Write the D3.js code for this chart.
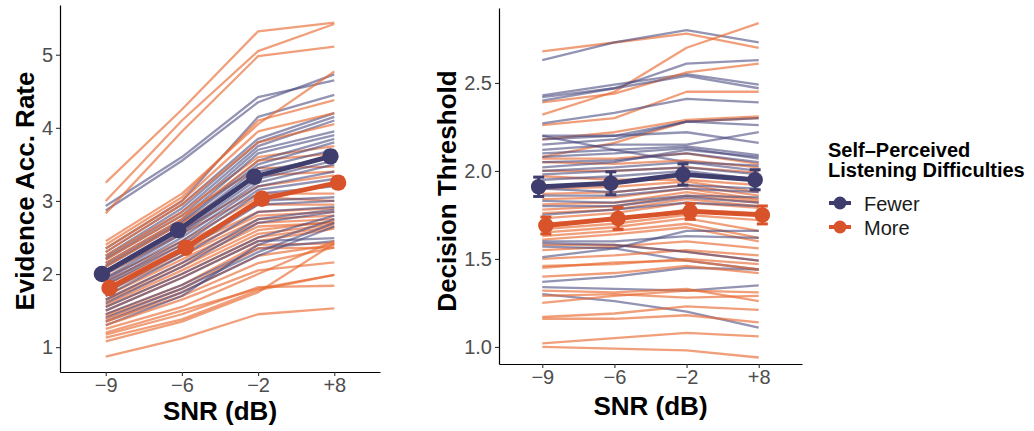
<!DOCTYPE html>
<html>
<head>
<meta charset="utf-8">
<script src="https://cdn.jsdelivr.net/npm/d3@7"></script>
<style>
  html, body { margin: 0; padding: 0; background: #ffffff; }
  svg { display: block; font-family: "Liberation Sans", Arial, Helvetica, sans-serif; }
</style>
</head>
<body>
<svg id="chart" width="1034" height="431"></svg>
<script>
// SNR conditions (x categories)
const snrLabels = ["\u22129", "\u22126", "\u22122", "+8"];
const groupNames = ["Fewer", "More"];

// Evidence accumulation rate, one row per participant: [-9, -6, -2, +8]
const driftFewer = [
  [2.93, 3.60, 4.42, 4.65], [2.87, 3.55, 4.35, 4.73], [2.35, 3.00, 4.15, 4.45],
  [2.30, 2.95, 3.85, 4.20], [2.25, 2.90, 3.80, 4.15], [2.22, 2.85, 3.75, 4.10],
  [2.20, 2.80, 3.70, 3.95], [2.15, 2.75, 3.65, 3.90], [2.12, 2.72, 3.55, 3.85],
  [2.10, 2.70, 3.50, 3.80], [2.05, 2.65, 3.45, 3.70], [2.02, 2.62, 3.40, 3.60],
  [2.00, 2.58, 3.30, 3.55], [1.95, 2.55, 3.25, 3.50], [1.92, 2.50, 3.20, 3.40],
  [1.88, 2.45, 3.15, 3.30], [1.85, 2.40, 3.10, 3.20], [1.80, 2.35, 3.00, 3.05],
  [1.75, 2.30, 2.95, 3.00], [1.70, 2.25, 2.85, 2.92], [1.65, 2.15, 2.75, 2.88],
  [1.60, 2.10, 2.70, 2.85], [1.55, 2.00, 2.50, 2.80], [1.50, 1.95, 2.45, 2.49],
  [1.45, 1.85, 2.35, 2.45], [1.40, 1.80, 2.30, 2.70], [1.35, 1.75, 2.25, 2.65],
  [1.30, 1.70, 2.40, 2.75]
];
const driftMore = [
  [3.25, 4.25, 5.32, 5.44], [3.00, 4.10, 5.05, 5.42], [2.83, 3.95, 4.98, 5.11],
  [2.45, 3.10, 4.05, 4.77], [2.40, 3.05, 4.10, 4.38], [2.35, 3.00, 3.95, 4.20],
  [2.30, 2.95, 3.80, 4.05], [2.25, 2.85, 3.60, 3.75], [2.20, 2.80, 3.45, 3.47],
  [2.15, 2.75, 3.55, 3.65], [2.10, 2.70, 3.35, 3.40], [2.05, 2.60, 3.20, 3.35],
  [2.00, 2.55, 3.10, 3.10], [1.95, 2.45, 3.05, 3.00], [1.90, 2.40, 2.95, 2.95],
  [1.85, 2.35, 2.85, 2.90], [1.80, 2.30, 2.80, 2.85], [1.75, 2.25, 2.75, 2.80],
  [1.70, 2.20, 2.70, 2.75], [1.65, 2.15, 2.65, 2.70], [1.62, 2.10, 2.60, 2.72],
  [1.58, 2.05, 2.55, 2.68], [1.55, 2.00, 2.50, 2.65], [1.50, 1.95, 2.45, 2.62],
  [1.45, 1.85, 2.40, 2.42], [1.42, 1.80, 2.35, 2.36], [1.38, 1.75, 2.25, 2.40],
  [1.35, 1.70, 2.15, 2.36], [1.30, 1.65, 2.05, 2.16], [1.25, 1.55, 2.00, 2.45],
  [1.20, 1.50, 1.80, 1.99], [1.17, 1.45, 1.82, 1.84], [1.13, 1.38, 1.78, 1.99],
  [1.08, 1.35, 1.75, 2.42], [0.87, 1.12, 1.45, 1.53]
];

// Decision threshold, one row per participant: [-9, -6, -2, +8]
const thrFewer = [
  [2.63, 2.73, 2.80, 2.73], [2.43, 2.49, 2.55, 2.49], [2.42, 2.47, 2.54, 2.47],
  [2.40, 2.47, 2.61, 2.63], [2.27, 2.33, 2.41, 2.39], [2.20, 2.20, 2.28, 2.30],
  [2.20, 2.12, 2.05, 2.00], [2.18, 2.20, 2.22, 2.16], [2.15, 2.18, 2.28, 2.26],
  [2.12, 2.15, 2.15, 2.22], [2.10, 2.12, 2.14, 2.09], [2.08, 2.10, 2.13, 2.07],
  [2.05, 2.06, 2.10, 2.05], [2.02, 2.05, 2.12, 2.08], [2.00, 2.02, 2.05, 2.03],
  [1.98, 2.00, 2.02, 1.98], [1.95, 1.97, 2.00, 1.95], [1.90, 1.88, 1.92, 1.90],
  [1.86, 1.86, 1.90, 1.88], [1.83, 1.82, 1.86, 1.85], [1.80, 1.80, 1.85, 1.82],
  [1.75, 1.78, 1.82, 1.80], [1.60, 1.60, 1.63, 1.62], [1.57, 1.56, 1.49, 1.44],
  [1.51, 1.56, 1.66, 1.66], [1.37, 1.40, 1.45, 1.44], [1.34, 1.33, 1.32, 1.35],
  [1.30, 1.26, 1.20, 1.11], [1.59, 1.58, 1.54, 1.49]
];
const thrMore = [
  [2.68, 2.73, 2.78, 2.70], [2.32, 2.45, 2.70, 2.84], [2.39, 2.44, 2.56, 2.61],
  [2.26, 2.30, 2.45, 2.45], [2.18, 2.22, 2.29, 2.31], [2.08, 2.16, 2.28, 2.30],
  [2.07, 2.07, 2.10, 2.04], [2.05, 2.04, 2.06, 2.02], [2.00, 2.00, 2.02, 1.99],
  [1.97, 1.95, 1.95, 1.92], [1.90, 1.91, 1.94, 1.88], [1.87, 1.88, 1.92, 1.86],
  [1.84, 1.85, 1.90, 1.84], [1.81, 1.82, 1.88, 1.83], [1.78, 1.80, 1.86, 1.82],
  [1.76, 1.78, 1.84, 1.80], [1.73, 1.76, 1.82, 1.79], [1.70, 1.72, 1.78, 1.76],
  [1.67, 1.70, 1.75, 1.72], [1.65, 1.68, 1.73, 1.66], [1.63, 1.66, 1.70, 1.62],
  [1.61, 1.64, 1.68, 1.60], [1.58, 1.58, 1.54, 1.49], [1.55, 1.57, 1.60, 1.56],
  [1.50, 1.52, 1.55, 1.52], [1.46, 1.47, 1.50, 1.47], [1.45, 1.48, 1.49, 1.44],
  [1.40, 1.42, 1.46, 1.42], [1.32, 1.31, 1.33, 1.26], [1.25, 1.29, 1.32, 1.31],
  [1.29, 1.30, 1.28, 1.29], [1.17, 1.19, 1.23, 1.21], [1.16, 1.16, 1.18, 1.14],
  [1.02, 1.05, 1.08, 1.06], [1.00, 0.99, 0.98, 0.94]
];

// Group means and standard errors
const driftMeanFewer = [2.00, 2.60, 3.33, 3.61];
const driftMeanMore  = [1.81, 2.36, 3.03, 3.25];
const driftSeFewer   = [0.06, 0.07, 0.07, 0.07];
const driftSeMore    = [0.05, 0.06, 0.07, 0.07];
const thrMeanFewer   = [1.91, 1.93, 1.98, 1.95];
const thrMeanMore    = [1.69, 1.73, 1.77, 1.75];
const thrSeFewer     = [0.055, 0.065, 0.060, 0.057];
const thrSeMore      = [0.048, 0.062, 0.045, 0.051];

// Axis ticks
const driftTicks = [1, 2, 3, 4, 5];
const thrTicks = [1.0, 1.5, 2.0, 2.5];

const colors = { Fewer: "#3E3D6D", More: "#D9532A" };
const lineColors = { Fewer: "#45457C", More: "#E8692F" };

const svg = d3.select("#chart");

function panel(opts) {
  const x = d3.scaleLinear().domain([-0.6, 3.6]).range([opts.left, opts.right]);
  const y = d3.scaleLinear().domain(opts.yDomain).range([opts.bottom, opts.top]);
  const g = svg.append("g");

  // individual participant trajectories, groups interleaved
  const rows = [];
  const n = Math.max(opts.fewer.length, opts.more.length);
  for (let i = 0; i < n; i++) {
    if (i < opts.more.length) rows.push({ group: "More", v: opts.more[i] });
    if (i < opts.fewer.length) rows.push({ group: "Fewer", v: opts.fewer[i] });
  }
  const line = d3.line().x((d, i) => x(i)).y(d => y(d));
  g.append("g").selectAll("path").data(rows).join("path")
    .attr("d", d => line(d.v))
    .attr("fill", "none")
    .attr("stroke", d => lineColors[d.group])
    .attr("stroke-opacity", d => d.group === "More" ? 0.64 : 0.58)
    .attr("stroke-width", 2.3)
    .attr("stroke-linejoin", "round");

  // group means
  const dodge = { Fewer: -0.05, More: 0.05 };
  const summaries = [
    { group: "Fewer", mean: opts.meanFewer, se: opts.seFewer },
    { group: "More", mean: opts.meanMore, se: opts.seMore }
  ];
  const mline = d3.line().x((d, i) => x(i + d.dx)).y(d => y(d.m));
  summaries.forEach(s => {
    const pts = s.mean.map((m, i) => ({ m, se: s.se[i], dx: dodge[s.group], i }));
    const sg = g.append("g");
    sg.append("path")
      .attr("d", mline(pts))
      .attr("fill", "none")
      .attr("stroke", colors[s.group])
      .attr("stroke-width", 4.8)
      .attr("stroke-linejoin", "round");
    const eb = sg.selectAll("g.eb").data(pts).join("g").attr("class", "eb");
    eb.append("line")
      .attr("x1", d => x(d.i + d.dx)).attr("x2", d => x(d.i + d.dx))
      .attr("y1", d => y(d.m - d.se)).attr("y2", d => y(d.m + d.se))
      .attr("stroke", colors[s.group]).attr("stroke-width", 3);
    [-1, 1].forEach(sign => {
      eb.append("line")
        .attr("x1", d => x(d.i + d.dx) - 5.5).attr("x2", d => x(d.i + d.dx) + 5.5)
        .attr("y1", d => y(d.m + sign * d.se)).attr("y2", d => y(d.m + sign * d.se))
        .attr("stroke", colors[s.group]).attr("stroke-width", 3);
    });
    sg.selectAll("circle").data(pts).join("circle")
      .attr("cx", d => x(d.i + d.dx))
      .attr("cy", d => y(d.m))
      .attr("r", opts.pointR)
      .attr("fill", colors[s.group]);
  });

  // axes
  const xAxis = d3.axisBottom(x).tickValues([0, 1, 2, 3])
    .tickFormat(i => snrLabels[i]).tickSize(4).tickSizeOuter(0).tickPadding(2);
  const yAxis = d3.axisLeft(y).tickValues(opts.ticks)
    .tickFormat(opts.fmt).tickSize(4).tickSizeOuter(0).tickPadding(3);
  const gx = g.append("g").attr("transform", `translate(0,${opts.bottom})`).call(xAxis);
  const gy = g.append("g").attr("transform", `translate(${opts.left},0)`).call(yAxis);
  [gx, gy].forEach(a => {
    a.select(".domain").attr("stroke", "#000").attr("stroke-width", 1.2);
    a.selectAll(".tick line").attr("stroke", "#333").attr("stroke-width", 1.1);
    a.selectAll(".tick text").attr("fill", "#4D4D4D")
      .style("font-size", "20px").style("font-family", "Liberation Sans, Arial, sans-serif");
  });

  // axis titles
  g.append("text")
    .attr("x", (opts.left + opts.right) / 2).attr("y", opts.xTitleY)
    .attr("text-anchor", "middle")
    .style("font-size", "26px").style("font-weight", "bold").attr("fill", "#000")
    .text("SNR (dB)");
  g.append("text")
    .attr("transform", `translate(${opts.yTitleX},${opts.yTitleCY}) rotate(-90)`)
    .attr("text-anchor", "middle")
    .style("font-size", "26px").style("font-weight", "bold").attr("fill", "#000")
    .text(opts.yTitle);
}

panel({
  left: 60, right: 380, top: 5, bottom: 372,
  yDomain: [0.66, 5.68],
  fewer: driftFewer, more: driftMore,
  meanFewer: driftMeanFewer, meanMore: driftMeanMore,
  seFewer: driftSeFewer, seMore: driftSeMore,
  ticks: driftTicks, fmt: d3.format("d"), pointR: 8.2,
  yTitle: "Evidence Acc. Rate", yTitleX: 34, yTitleCY: 191, xTitleY: 420
});

panel({
  left: 499, right: 802, top: 8, bottom: 364,
  yDomain: [0.903, 2.926],
  fewer: thrFewer, more: thrMore,
  meanFewer: thrMeanFewer, meanMore: thrMeanMore,
  seFewer: thrSeFewer, seMore: thrSeMore,
  ticks: thrTicks, fmt: d3.format(".1f"), pointR: 7.8,
  yTitle: "Decision Threshold", yTitleX: 456, yTitleCY: 191, xTitleY: 415
});

// legend
const legend = svg.append("g").attr("transform", "translate(828,0)");
legend.append("text").attr("x", 0).attr("y", 157)
  .style("font-size", "20px").style("font-weight", "bold").text("Self\u2013Perceived");
legend.append("text").attr("x", 0).attr("y", 177)
  .style("font-size", "20px").style("font-weight", "bold").text("Listening Difficulties");
const items = legend.selectAll("g.item").data(groupNames).join("g")
  .attr("class", "item")
  .attr("transform", (d, i) => `translate(12,${203 + i * 24})`);
items.append("line").attr("x1", -11).attr("x2", 11).attr("y1", 0).attr("y2", 0)
  .attr("stroke", d => colors[d]).attr("stroke-width", 4);
items.append("circle").attr("r", 6.5).attr("fill", d => colors[d]);
items.append("text").attr("x", 24).attr("y", 8)
  .style("font-size", "20px").attr("fill", "#1a1a1a").text(d => d);
</script>
</body>
</html>
